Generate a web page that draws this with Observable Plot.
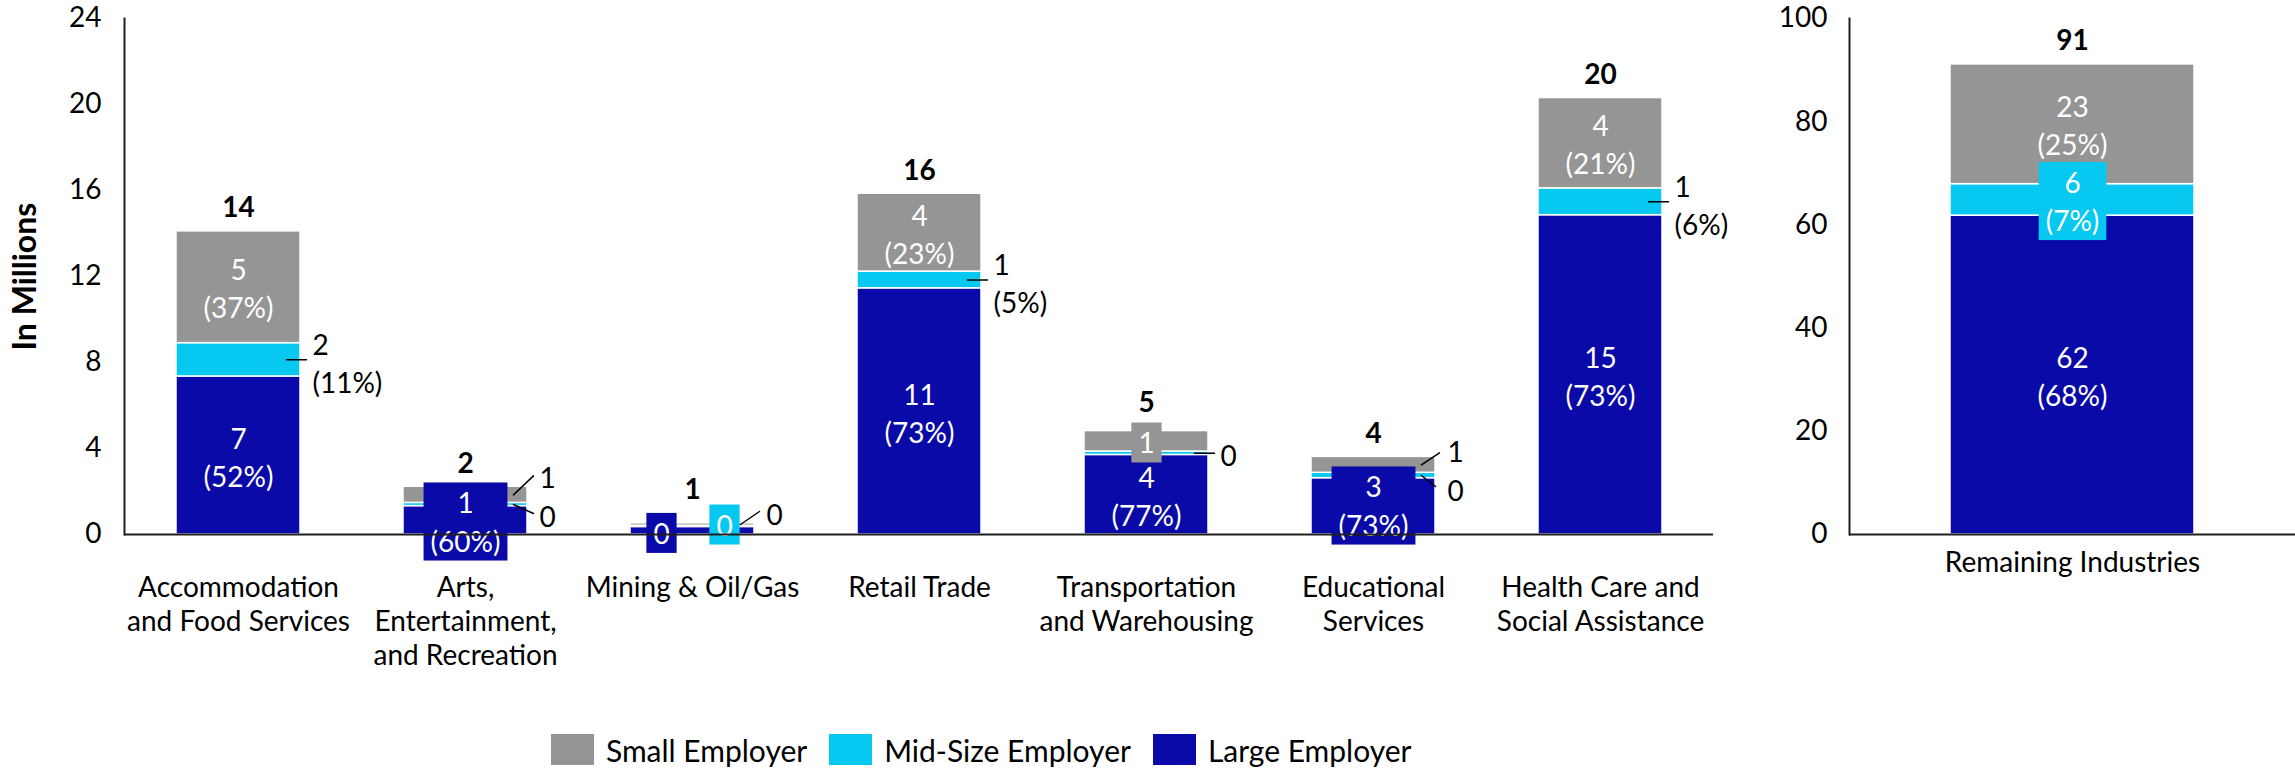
<!DOCTYPE html>
<html><head><meta charset="utf-8">
<script src="https://cdn.jsdelivr.net/npm/d3@7"></script>
<script src="https://cdn.jsdelivr.net/npm/@observablehq/plot@0.6"></script>
<style>
html,body{margin:0;padding:0;background:#fff;}
#wrap{position:relative;width:2295px;height:768px;font-family:Lato,sans-serif;overflow:hidden;}
#left{position:absolute;left:0;top:0;}
#right{position:absolute;left:1740px;top:0;}
#legend{position:absolute;left:551px;top:734px;height:31px;display:flex;align-items:center;font-size:30px;color:#000;}
#legend .item{display:flex;align-items:center;margin-right:22px;white-space:nowrap;}
#legend .sw{display:inline-block;width:43px;height:31px;margin-right:12px;}
</style></head><body>
<div id="wrap"><div id="left"></div><div id="right"></div><div id="legend"></div></div>
<script>
// ---------- data ----------
const seriesNames = ["Large Employer", "Mid-Size Employer", "Small Employer"];
const seriesColors = ["#0A0AA8", "#06C8F0", "#959595"];
const legendOrder = ["Small Employer", "Mid-Size Employer", "Large Employer"];

const categories = ["Accommodation and Food Services", "Arts, Entertainment, and Recreation", "Mining & Oil/Gas", "Retail Trade", "Transportation and Warehousing", "Educational Services", "Health Care and Social Assistance"];
const tickLabels = ["Accommodation\nand Food Services", "Arts,\nEntertainment,\nand Recreation", "Mining & Oil/Gas", "Retail Trade", "Transportation\nand Warehousing", "Educational\nServices", "Health Care and\nSocial Assistance"];
const largeVals = [7.35, 1.32, 0.35, 11.45, 3.7, 2.62, 14.85];
const midVals   = [1.55, 0.15, 0.06, 0.78, 0.16, 0.25, 1.25];
const smallVals = [5.2, 0.75, 0.11, 3.62, 0.95, 0.74, 4.2];
const largePct = [52, 60, null, 73, 77, 73, 73];
const midPct   = [11, null, null, 5, null, null, 6];
const smallPct = [37, null, null, 23, null, null, 21];

const remCategories = ["Remaining Industries"];
const remLargeVals = [61.8];
const remMidVals = [6.1];
const remSmallVals = [23.2];
const remLargePct = [68];
const remMidPct = [7];
const remSmallPct = [25];

const yTicksLeft = [0, 4, 8, 12, 16, 20, 24];
const yTicksRight = [0, 20, 40, 60, 80, 100];
const yLabel = "In Millions";

// ---------- layout / style (not data) ----------
const FONT = "Lato, sans-serif";
const H = 700, MT = 18, MB = 166;
const LW = 1740, LML = 124, LMR = 27;
const RW = 555, RML = 109, RMR = 0;
const PAD_IN = 0.454;
const AXIS = "#1e1e1e";
// label placement tweaks, keyed by category index + series key
const leftLayout = {
  "0M": {out: true, lead: [20, 0], ty: 2},
  "1L": {box: true},
  "1M": {out: true, lead: [20, 9], ty: 10},
  "1S": {out: true, lead: [20, -19], ty: -19},
  "2L": {box: true, dx: -31, dy: 1},
  "2M": {box: true, dx: 32, dy: -3},
  "2S": {out: true, lead: [19, -13], ty: -12},
  "3M": {out: true, lead: [20, 0], ty: 2},
  "4S": {box: true},
  "4M": {out: true, lead: [20, 0], ty: 1},
  "5L": {box: true, dy: -2},
  "5M": {out: true, lead: [14, 11], ty: 13},
  "5S": {out: true, lead: [18, -12], ty: -15},
  "6M": {out: true, lead: [20, 0], ty: 2}
};
const leftTotalDy = {2: -33, 4: -28};
const rightLayout = {"0M": {box: true}};
const keys = ["L", "M", "S"];

function buildRows(cats, L, M, S, LP, MP, SP) {
  const rows = [], totals = [];
  cats.forEach((c, i) => {
    let base = 0;
    [[L[i], LP[i]], [M[i], MP[i]], [S[i], SP[i]]].forEach(([v, p], k) => {
      rows.push({cat: c, idx: i, key: i + keys[k], series: seriesNames[k], color: seriesColors[k],
        y1: base, y2: base + v, mid: base + v / 2,
        label: String(Math.round(v)) + (p != null ? `\n(${p}%)` : "")});
      base += v;
    });
    totals.push({cat: c, idx: i, total: base, label: String(Math.round(base))});
  });
  return {rows, totals};
}

const leaderShape = {draw(ctx, l) { ctx.moveTo(0, 0); ctx.lineTo(0, -l); }};

function labelMarks(rows, layout, bw) {
  const marks = [];
  const inside = rows.filter(r => !layout[r.key]);
  marks.push(Plot.text(inside, {x: "cat", y: "mid", text: "label", fill: "white", lineHeight: 1.36}));
  rows.filter(r => layout[r.key]).forEach(r => {
    const o = layout[r.key];
    if (o.box) {
      marks.push(Plot.text([r], {x: "cat", y: "mid", text: "label", fill: "white", lineHeight: 1.36,
        dx: o.dx || 0, dy: o.dy || 0, ariaDescription: "box " + r.color}));
    } else if (o.out) {
      const [ex, ey] = o.lead;
      marks.push(Plot.vector([r], {x: "cat", y: "mid", dx: bw / 2 - 14, anchor: "start",
        length: Math.hypot(ex, ey), rotate: Math.atan2(ex, -ey) * 180 / Math.PI,
        shape: leaderShape, stroke: "black", strokeWidth: 1.5}));
      marks.push(Plot.text([r], {x: "cat", y: "mid", text: "label", fill: "black", textAnchor: "start",
        lineHeight: 1.36, dx: bw / 2 + 12, dy: o.ty}));
    }
  });
  return marks;
}

function addBoxes(svg) {
  svg.querySelectorAll('g[aria-description^="box "]').forEach(g => {
    const color = g.getAttribute("aria-description").slice(4);
    g.querySelectorAll("text").forEach(t => {
      const b = t.getBBox();
      const rect = document.createElementNS("http://www.w3.org/2000/svg", "rect");
      rect.setAttribute("x", b.x - 7);
      rect.setAttribute("y", b.y - 3);
      rect.setAttribute("width", b.width + 14);
      rect.setAttribute("height", b.height + 6);
      rect.setAttribute("fill", color);
      rect.setAttribute("stroke", "none");
      const tr = t.getAttribute("transform");
      if (tr) rect.setAttribute("transform", tr);
      t.parentNode.insertBefore(rect, t);
    });
  });
}

const style = {fontFamily: FONT, fontSize: "28px", color: "black", background: "white", overflow: "visible"};
const color = {domain: seriesNames, range: seriesColors};

// ---------- left panel ----------
const bwL = (LW - LML - LMR) / categories.length * (1 - PAD_IN);
const left = buildRows(categories, largeVals, midVals, smallVals, largePct, midPct, smallPct);
const leftPlot = Plot.plot({
  width: LW, height: H, marginLeft: LML, marginRight: LMR, marginTop: MT, marginBottom: MB,
  style, color,
  x: {domain: categories, paddingInner: PAD_IN, paddingOuter: PAD_IN / 2, label: null},
  y: {domain: [0, 24], label: null},
  marks: [
    Plot.barY(left.rows, {x: "cat", y1: "y1", y2: "y2", fill: "series", stroke: "white", strokeWidth: 1.5}),
    ...labelMarks(left.rows, leftLayout, bwL),
    ...left.totals.map(t => Plot.text([t], {x: "cat", y: "total", text: "label", fontWeight: "bold",
      dy: leftTotalDy[t.idx] ?? -23})),
    Plot.ruleY([0], {stroke: AXIS, strokeWidth: 2}),
    Plot.frame({anchor: "left", stroke: AXIS, strokeWidth: 2}),
    Plot.axisY({ticks: yTicksLeft, tickSize: 0, tickPadding: 23, label: null}),
    Plot.axisX({tickSize: 0, tickPadding: 39, lineHeight: 1.2, label: null,
      tickFormat: d => tickLabels[categories.indexOf(d)]}),
    Plot.text([yLabel], {frameAnchor: "left", textAnchor: "middle", rotate: -90, dx: -99,
      fontWeight: "bold", fontSize: 32})
  ]
});
document.getElementById("left").append(leftPlot);
addBoxes(leftPlot);

// ---------- right panel ----------
const bwR = (RW - RML - RMR) * (1 - PAD_IN);
const right = buildRows(remCategories, remLargeVals, remMidVals, remSmallVals, remLargePct, remMidPct, remSmallPct);
const rightPlot = Plot.plot({
  width: RW, height: H, marginLeft: RML, marginRight: RMR, marginTop: MT, marginBottom: MB,
  style, color,
  x: {domain: remCategories, paddingInner: PAD_IN, paddingOuter: PAD_IN / 2, label: null},
  y: {domain: [0, 100], label: null},
  marks: [
    Plot.barY(right.rows, {x: "cat", y1: "y1", y2: "y2", fill: "series", stroke: "white", strokeWidth: 1.5}),
    ...labelMarks(right.rows, rightLayout, bwR),
    Plot.text(right.totals, {x: "cat", y: "total", text: "label", fontWeight: "bold", dy: -23}),
    Plot.ruleY([0], {stroke: AXIS, strokeWidth: 2}),
    Plot.frame({anchor: "left", stroke: AXIS, strokeWidth: 2}),
    Plot.axisY({ticks: yTicksRight, tickSize: 0, tickPadding: 22, label: null}),
    Plot.axisX({tickSize: 0, tickPadding: 18, label: null})
  ]
});
document.getElementById("right").append(rightPlot);
addBoxes(rightPlot);

// ---------- legend ----------
const lg = document.getElementById("legend");
legendOrder.forEach(s => {
  const item = document.createElement("div");
  item.className = "item";
  const sw = document.createElement("span");
  sw.className = "sw";
  sw.style.background = seriesColors[seriesNames.indexOf(s)];
  item.append(sw, document.createTextNode(s));
  lg.append(item);
});
</script>
</body></html>
